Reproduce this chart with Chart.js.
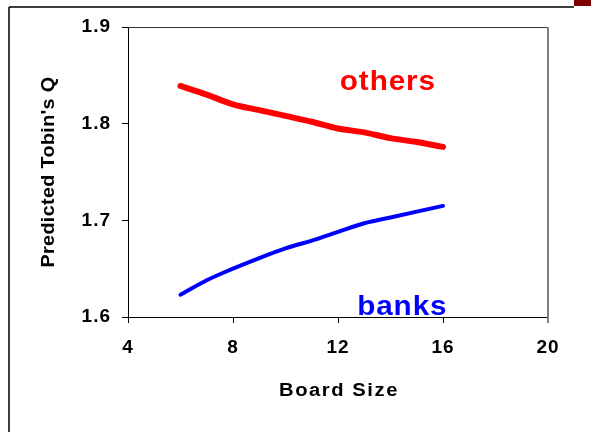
<!DOCTYPE html>
<html>
<head>
<meta charset="utf-8">
<script src="https://cdn.jsdelivr.net/npm/chart.js@4/dist/chart.umd.min.js"></script>
<style>
  html, body { margin: 0; padding: 0; background: #fff; }
  #wrap { width: 591px; height: 432px; position: relative; }
</style>
</head>
<body>
<div id="wrap"><canvas id="chart"></canvas></div>
<script>
/* ── data ── */
const boardSize = [6, 7, 8, 9, 10, 11, 12, 13, 14, 15, 16];
const others    = [1.839, 1.830, 1.820, 1.814, 1.808, 1.802, 1.795, 1.791, 1.785, 1.781, 1.776];
const banks     = [1.623, 1.638, 1.650, 1.661, 1.671, 1.679, 1.688, 1.697, 1.703, 1.709, 1.715];
const xTicks    = [4, 8, 12, 16, 20];
const yTicks    = [1.6, 1.7, 1.8, 1.9];

const seriesNames = ['others', 'banks'];
const seriesColors = ['#FF0000', '#0000FF'];
// where the in-plot labels sit, in data units: [x centre, y baseline]
const labelPos = [[13.9, 1.835], [14.45, 1.602]];

const FONT = 'Liberation Sans, Arial, sans-serif';

// text drawn a little wider, like the original's stretched bold face
function wideText(ctx, str, x, y, rot, stretch, spacing) {
  ctx.save();
  ctx.translate(x, y);
  if (rot) ctx.rotate(rot);
  ctx.scale(stretch, 1);
  ctx.letterSpacing = spacing + 'px';
  ctx.fillText(str, 0, 0);
  ctx.restore();
}

/* ── frame, borders and texts ── */
const decor = {
  id: 'decor',
  beforeDraw(chart) {
    chart.ctx.letterSpacing = '1px';
  },
  afterDraw(chart) {
    const { ctx, chartArea: a, scales } = chart;
    ctx.save();
    // slide frame
    ctx.fillStyle = '#800000';
    ctx.fillRect(574, 0, 17, 6);
    ctx.strokeStyle = '#000';
    ctx.lineWidth = 1.5;
    ctx.beginPath();
    ctx.moveTo(9, 7); ctx.lineTo(574, 7);
    ctx.moveTo(9, 7); ctx.lineTo(9, 432);
    ctx.stroke();

    // top + right border of plot
    ctx.lineWidth = 1;
    ctx.strokeStyle = '#333';
    ctx.beginPath();
    ctx.moveTo(a.left, a.top + 0.5); ctx.lineTo(a.right, a.top + 0.5);
    ctx.stroke();
    ctx.strokeStyle = '#808080';
    ctx.lineWidth = 2;
    ctx.beginPath();
    ctx.moveTo(a.right, a.top); ctx.lineTo(a.right, a.bottom + 6);
    ctx.stroke();

    // axis titles
    ctx.fillStyle = '#000';
    ctx.font = 'bold 18px ' + FONT;
    ctx.textAlign = 'center';
    ctx.textBaseline = 'middle';
    wideText(ctx, 'Board Size', (a.left + a.right) / 2 + 1, 391, 0, 1.12, 1.4);
    wideText(ctx, "Predicted Tobin's Q", 49, (a.top + a.bottom) / 2, -Math.PI / 2, 1.1, 0.3);

    // series labels
    ctx.font = 'bold 27px ' + FONT;
    ctx.textBaseline = 'alphabetic';
    seriesNames.forEach((name, i) => {
      ctx.fillStyle = seriesColors[i];
      wideText(ctx, name, scales.x.getPixelForValue(labelPos[i][0]), scales.y.getPixelForValue(labelPos[i][1]), 0, 1.1, 0.8);
    });
    ctx.restore();
  }
};

const tickFont = { family: FONT, size: 19, weight: 'bold' };

new Chart(document.getElementById('chart'), {
  type: 'line',
  data: {
    datasets: [
      { label: 'others', data: boardSize.map((x, i) => ({ x, y: others[i] })),
        borderColor: seriesColors[0], borderWidth: 6, pointRadius: 0, tension: 0.3,
        cubicInterpolationMode: 'monotone', borderCapStyle: 'round', fill: false },
      { label: 'banks', data: boardSize.map((x, i) => ({ x, y: banks[i] })),
        borderColor: seriesColors[1], borderWidth: 4, pointRadius: 0, tension: 0.3,
        cubicInterpolationMode: 'monotone', borderCapStyle: 'round', fill: false }
    ]
  },
  options: {
    responsive: true, maintainAspectRatio: false, animation: false,
    layout: { padding: { left: 0, top: 27, right: 43, bottom: 0 } },
    plugins: { legend: { display: false }, tooltip: { enabled: false } },
    scales: {
      x: {
        type: 'linear', min: 4, max: 20,
        afterBuildTicks: s => { s.ticks = xTicks.map(v => ({ value: v })); },
        afterFit: s => { s.height = 115; },
        grid: { drawOnChartArea: false, tickLength: 6, color: '#000' },
        border: { color: '#000', width: 1 },
        ticks: { color: '#000', font: tickFont, padding: 13, maxRotation: 0 }
      },
      y: {
        min: 1.6, max: 1.9,
        afterBuildTicks: s => { s.ticks = yTicks.map(v => ({ value: v })); },
        afterFit: s => { s.width = 128; },
        grid: { drawOnChartArea: false, tickLength: 6, color: '#000' },
        border: { color: '#000', width: 1 },
        ticks: { color: '#000', font: tickFont, padding: 11, callback: v => v.toFixed(1) }
      }
    }
  },
  plugins: [decor]
});
</script>
</body>
</html>
